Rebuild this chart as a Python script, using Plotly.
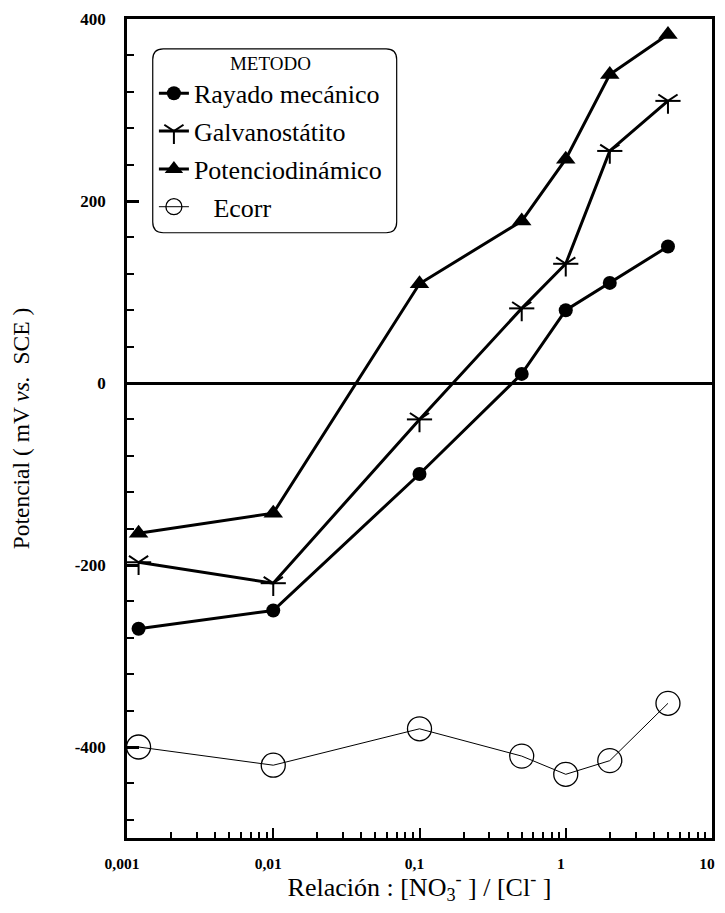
import plotly.graph_objects as go

# ---- data ----
ratio = [0.0012, 0.01, 0.1, 0.5, 1, 2, 5]
rayado = [-270, -250, -100, 10, 80, 110, 150]
galvano = [-197, -220, -40, 82, 131, 255, 310]
potencio = [-165, -143, 109, 178, 246, 339, 383]
ecorr = [-400, -420, -380, -410, -430, -415, -352]

x_tickvals = [0.001, 0.01, 0.1, 1, 10]
x_ticktext = ["0,001", "0,01", "0,1", "1", "10"]
y_tickvals = [-400, -200, 0, 200, 400]
y_ticktext = ["-400", "-200", "0", "200", "400"]
x_minor = [m * 10 ** k for k in range(-3, 1) for m in range(2, 10)]

SERIF = "Liberation Serif, Times New Roman, serif"

fig = go.Figure()

fig.add_trace(go.Scatter(
    x=ratio, y=rayado, mode="lines+markers", name="Rayado mecánico",
    legendgroup="a",
    line=dict(color="black", width=3),
    marker=dict(symbol="circle", size=14, color="black"),
))
fig.add_trace(go.Scatter(
    x=ratio, y=galvano, mode="lines+markers", name="Galvanostátito",
    legendgroup="b",
    line=dict(color="black", width=3),
    marker=dict(symbol="y-down-open", size=16, color="black",
                line=dict(color="black", width=2)),
))
fig.add_trace(go.Scatter(
    x=ratio, y=galvano, mode="markers", name="Galvanostátito",
    legendgroup="b", showlegend=False,
    marker=dict(symbol="line-ew-open", size=18, color="black",
                line=dict(color="black", width=2)),
))
fig.add_trace(go.Scatter(
    x=ratio, y=potencio, mode="lines+markers", name="Potenciodinámico",
    legendgroup="c",
    line=dict(color="black", width=3),
    marker=dict(symbol="triangle-up", size=17, color="black"),
))
fig.add_trace(go.Scatter(
    x=ratio, y=ecorr, mode="lines+markers", name="\u00a0\u00a0\u00a0Ecorr",
    legendgroup="d",
    line=dict(color="black", width=1),
    marker=dict(symbol="circle-open", size=24, color="black",
                line=dict(color="black", width=1.3)),
))

# legend rounded box (paper coords)
x0, x1, y0, y1 = 0.044, 0.461, 0.739, 0.9636
rx, ry = 0.018, 0.013
path = (f"M {x0+rx},{y1} L {x1-rx},{y1} Q {x1},{y1} {x1},{y1-ry} "
        f"L {x1},{y0+ry} Q {x1},{y0} {x1-rx},{y0} L {x0+rx},{y0} "
        f"Q {x0},{y0} {x0},{y0+ry} L {x0},{y1-ry} Q {x0},{y1} {x0+rx},{y1} Z")
fig.add_shape(type="path", path=path, xref="paper", yref="paper",
              line=dict(color="black", width=1.2), fillcolor="white", layer="above")

fig.update_layout(
    width=709, height=897,
    margin=dict(l=119, r=2, t=7, b=67),
    paper_bgcolor="white", plot_bgcolor="white",
    font=dict(family=SERIF, color="black"),
    showlegend=True,
    legend=dict(
        x=0.046, y=0.968, xanchor="left", yanchor="top",
        bgcolor="rgba(0,0,0,0)", borderwidth=0,
        font=dict(family=SERIF, size=26, color="black"),
        title=dict(text="METODO", side="top center",
                   font=dict(family=SERIF, size=19, color="black")),
        traceorder="grouped", tracegroupgap=1,
        itemwidth=30,
    ),
    xaxis=dict(
        type="log", range=[-3, 1.0],
        tickvals=x_tickvals, ticktext=x_ticktext,
        ticks="inside", ticklen=10, tickwidth=2, tickcolor="black",
        minor=dict(tickvals=x_minor, ticks="inside", ticklen=6, tickwidth=1.5,
                   tickcolor="black", showgrid=False),
        showline=True, linecolor="black", linewidth=2.5, mirror=True,
        showgrid=False, zeroline=False,
        tickfont=dict(family=SERIF, size=15.5, color="black", weight="bold"),
        ticklabelstandoff=10, ticklabelshift=-5, ticklabeloverflow="allow",
        title=dict(text="Relación : [NO<sub>3</sub><sup>-</sup> ] / [Cl<sup>-</sup> ]",
                   font=dict(family=SERIF, size=26, color="black"), standoff=8),
    ),
    yaxis=dict(
        range=[-500, 400],
        tickvals=y_tickvals, ticktext=y_ticktext,
        ticks="inside", ticklen=12, tickwidth=2.5, tickcolor="black",
        minor=dict(dtick=40, tick0=0, ticks="inside", ticklen=7, tickwidth=2,
                   tickcolor="black", showgrid=False),
        showline=True, linecolor="black", linewidth=2.5, mirror=True,
        showgrid=False,
        zeroline=True, zerolinecolor="black", zerolinewidth=2.5,
        tickfont=dict(family=SERIF, size=17, color="black", weight="bold"),
        ticklabelstandoff=15, ticklabeloverflow="allow",
        title=dict(text="Potencial ( mV <i>vs.</i>  SCE )",
                   font=dict(family=SERIF, size=23.5, color="black"), standoff=40),
    ),
)

fig.write_html("out.html")
